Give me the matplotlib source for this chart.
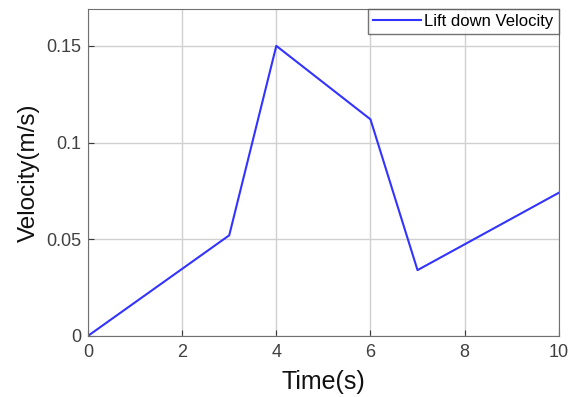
import matplotlib.pyplot as plt
import numpy as np

plt.rcParams['font.family'] = ['Liberation Sans', 'DejaVu Sans']

time_s = [0, 3, 4, 6, 7, 10]
velocity = [0, 0.052, 0.150, 0.112, 0.034, 0.074]
x_ticks = [0, 2, 4, 6, 8, 10]
y_ticks = [0, 0.05, 0.1, 0.15]
y_tick_labels = ['0', '0.05', '0.1', '0.15']

fig = plt.figure(figsize=(5.79, 3.97), dpi=100)
ax = fig.add_axes([0.152, 0.154, 0.813, 0.823])

ax.plot(time_s, velocity, color='#3333ff', lw=1.5, label='Lift down Velocity')

ax.set_xlim(0, 10)
ax.set_ylim(0, 0.169)
ax.set_xticks(x_ticks)
ax.set_yticks(y_ticks)
ax.set_yticklabels(y_tick_labels)
ax.grid(True, color='#d0d0d0', lw=1)
ax.tick_params(labelsize=13, colors='#3a3a3a', length=4, direction='in',
               top=False, right=False)
ax.tick_params(axis='x', pad=6)
ax.tick_params(axis='y', pad=5)
ax.tick_params(axis='both', labelcolor='#404040')
for s in ax.spines.values():
    s.set_color('#707070')

ax.set_xlabel('Time(s)', fontsize=18, color='#111111', labelpad=6)
ax.set_ylabel('Velocity(m/s)', fontsize=17.5, color='#111111', labelpad=4)

leg = ax.legend(loc='upper right', fontsize=12, fancybox=False,
                borderaxespad=0, handlelength=2.9, handletextpad=0.2,
                borderpad=0.3)
leg.get_frame().set_edgecolor('#505050')
leg.get_frame().set_linewidth(1)

fig.savefig('out.png', dpi=100)
